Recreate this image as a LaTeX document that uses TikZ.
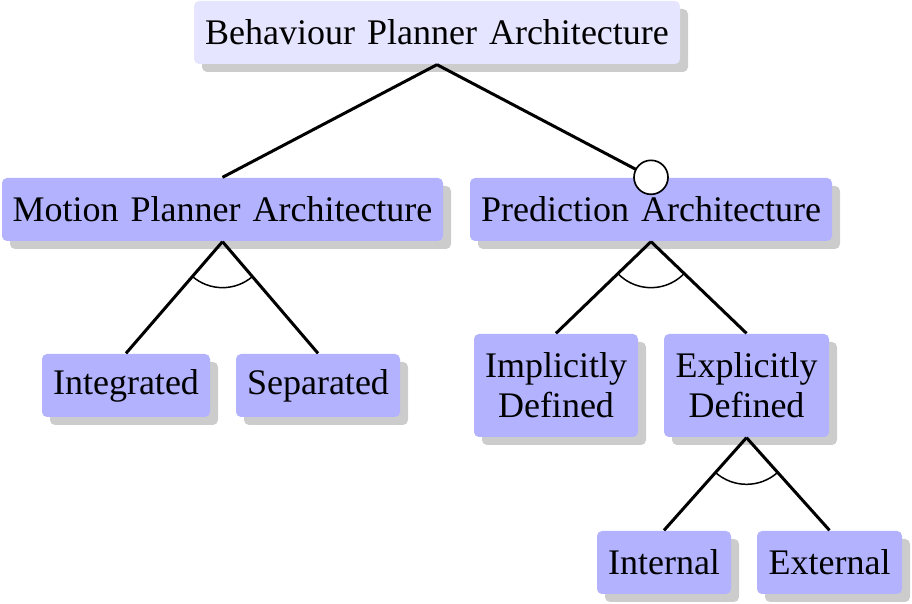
\documentclass[tikz,border=0pt]{standalone}
\usepackage{fontspec}
\setmainfont{Liberation Serif}
\usetikzlibrary{shadows,calc}
\begin{document}
\begin{tikzpicture}[x=0.3pt,y=-0.3pt,
  feat/.style={rounded corners=1.5pt, fill=blue!30, inner sep=0pt,
    minimum height=18.9pt, align=center, font=\fontsize{10.8}{12}\selectfont,
    drop shadow={shadow xshift=2.4pt, shadow yshift=-2.4pt, fill=black!20, opacity=1}},
  rootfeat/.style={feat, fill=blue!10},
  conn/.style={line width=0.9pt},
  grp/.style={line width=0.45pt},
  opt/.style={circle, draw, fill=white, line width=0.5pt, inner sep=0pt, minimum size=10.2pt}
]
\useasboundingbox (0,0) rectangle (912,604);
\node[rootfeat, minimum width=145.8pt] (root) at (437,32.5) {Behaviour\hspace{0.9pt} Planner\hspace{0.9pt} Architecture};
\node[feat, minimum width=132.3pt] (mp) at (222.5,209.5) {Motion\hspace{0.9pt} Planner\hspace{0.9pt} Architecture};
\node[feat, minimum width=108.6pt] (pa) at (651,209.5) {Prediction\hspace{0.9pt} Architecture};
\node[feat, minimum width=50.4pt] (int) at (126,385.5) {Integrated};
\node[feat, minimum width=49.2pt] (sep) at (318,385.5) {Separated};
\node[feat, minimum width=49.2pt, minimum height=30.9pt] (imp) at (556,385.5) {Implicitly\\Defined};
\node[feat, minimum width=49.5pt, minimum height=30.9pt] (exp) at (746.5,385.5) {Explicitly\\Defined};
\node[feat, minimum width=40.2pt] (in) at (664,562.5) {Internal};
\node[feat, minimum width=43.5pt] (ext) at (829.5,562.5) {External};

\draw[conn] (root.south) -- (mp.north);
\draw[conn] (root.south) -- (pa.north);
\node[opt] (pc) at (pa.north) {};

\draw[conn] (mp.south) -- (int.north);
\draw[conn] (mp.south) -- (sep.north);
\draw[conn] (pa.south) -- (imp.north);
\draw[conn] (pa.south) -- (exp.north);
\draw[conn] (exp.south) -- (in.north);
\draw[conn] (exp.south) -- (ext.north);

\draw[grp] let \p1=($(int.north)-(mp.south)$), \p2=($(sep.north)-(mp.south)$),
  \n1={atan2(\y1,\x1)}, \n2={atan2(\y2,\x2)} in
  ($(mp.south)+(\n1:13.8pt)$) arc[start angle=\n1, end angle=\n2, radius=13.8pt];
\draw[grp] let \p1=($(imp.north)-(pa.south)$), \p2=($(exp.north)-(pa.south)$),
  \n1={atan2(\y1,\x1)}, \n2={atan2(\y2,\x2)} in
  ($(pa.south)+(\n1:13.8pt)$) arc[start angle=\n1, end angle=\n2, radius=13.8pt];
\draw[grp] let \p1=($(in.north)-(exp.south)$), \p2=($(ext.north)-(exp.south)$),
  \n1={atan2(\y1,\x1)}, \n2={atan2(\y2,\x2)} in
  ($(exp.south)+(\n1:14pt)$) arc[start angle=\n1, end angle=\n2, radius=14pt];
\end{tikzpicture}
\end{document}
